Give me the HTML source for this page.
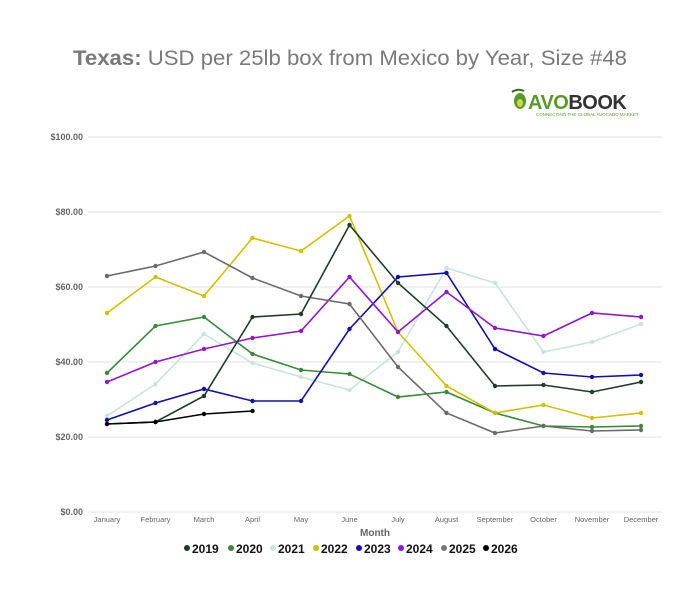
<!DOCTYPE html>
<html><head><meta charset="utf-8"><style>
body{margin:0;background:#fff;}
svg{display:block;font-family:"Liberation Sans",sans-serif;}
</style></head><body>
<svg width="700" height="593" viewBox="0 0 700 593" xmlns="http://www.w3.org/2000/svg">
<rect width="700" height="593" fill="#fff"/>
<text x="350" y="65" text-anchor="middle" font-size="21" fill="#7a7a7a" textLength="554" lengthAdjust="spacingAndGlyphs"><tspan font-weight="bold">Texas:</tspan> USD per 25lb box from Mexico by Year, Size #48</text>
<!-- logo -->
<g>
<ellipse cx="520" cy="101" rx="6" ry="8" fill="#5a9a2a"/>
<ellipse cx="520" cy="103" rx="3" ry="4" fill="#c8d84a"/>
<path d="M512 92 q6 -4 12 -1" stroke="#2e6b1e" stroke-width="2" fill="none"/>
<text x="528" y="109" font-size="20" font-weight="bold" fill="#5a9a2a" letter-spacing="-0.5">AVO<tspan fill="#333">BOOK</tspan></text>
<text x="536" y="116" font-size="4.5" fill="#5a9a2a">CONNECTING THE GLOBAL AVOCADO MARKET</text>
</g>
<g stroke="#e2e2e2" stroke-width="1">
<line x1="88" y1="137" x2="662" y2="137"/>
<line x1="88" y1="212" x2="662" y2="212"/>
<line x1="88" y1="287" x2="662" y2="287"/>
<line x1="88" y1="362" x2="662" y2="362"/>
<line x1="88" y1="437" x2="662" y2="437"/>
<line x1="88" y1="512" x2="662" y2="512"/>
</g>
<g font-size="9" font-weight="bold" fill="#666" text-anchor="end">
<text x="83" y="140">$100.00</text>
<text x="83" y="215">$80.00</text>
<text x="83" y="290">$60.00</text>
<text x="83" y="365">$40.00</text>
<text x="83" y="440">$20.00</text>
<text x="83" y="515">$0.00</text>
</g>
<g font-size="7.5" fill="#666" text-anchor="middle">
<text x="107" y="522">January</text><text x="155.5" y="522">February</text><text x="204" y="522">March</text><text x="252.5" y="522">April</text><text x="301" y="522">May</text><text x="349.5" y="522">June</text><text x="398" y="522">July</text><text x="446.5" y="522">August</text><text x="495" y="522">September</text><text x="543.5" y="522">October</text><text x="592" y="522">November</text><text x="641" y="522">December</text>
</g>
<text x="375" y="536" font-size="10" font-weight="bold" fill="#666" text-anchor="middle">Month</text>
<g fill="none" stroke-width="1.6">
<polyline stroke="#c6e6da" points="107,416 155.5,384 204,334 252.5,363 301,377 349.5,390 398,352 446.5,268 495,283 543.5,352 592,342 641,324"/>
<polyline stroke="#3a8a3a" points="107,373 155.5,326 204,317 252.5,354 301,370 349.5,374 398,397 446.5,392 495,413 543.5,426 592,427 641,426"/>
<polyline stroke="#d4c000" points="107,313 155.5,277 204,296 252.5,238 301,251 349.5,216 398,332 446.5,386 495,413 543.5,405 592,418 641,413"/>
<polyline stroke="#1010b0" points="107,420 155.5,403 204,389 252.5,401 301,401 349.5,329 398,277 446.5,273 495,349 543.5,373 592,377 641,375"/>
<polyline stroke="#8e17d6" points="107,382 155.5,362 204,349 252.5,338 301,331 349.5,277 398,332 446.5,292 495,328 543.5,336 592,313 641,317"/>
<polyline stroke="#6b6b6b" points="107,276 155.5,266 204,252 252.5,278 301,296 349.5,304 398,367 446.5,413 495,433 543.5,426 592,431 641,430"/>
<polyline stroke="#1d3d26" points="107,424 155.5,422 204,396 252.5,317 301,314 349.5,225 398,283 446.5,326 495,386 543.5,385 592,392 641,382"/>
<polyline stroke="#000" points="107,424 155.5,422 204,414 252.5,411"/>
</g>
<g>
<g fill="#c6e6da"><circle cx="107" cy="416" r="2.2"/><circle cx="155.5" cy="384" r="2.2"/><circle cx="204" cy="334" r="2.2"/><circle cx="252.5" cy="363" r="2.2"/><circle cx="301" cy="377" r="2.2"/><circle cx="349.5" cy="390" r="2.2"/><circle cx="398" cy="352" r="2.2"/><circle cx="446.5" cy="268" r="2.2"/><circle cx="495" cy="283" r="2.2"/><circle cx="543.5" cy="352" r="2.2"/><circle cx="592" cy="342" r="2.2"/><circle cx="641" cy="324" r="2.2"/></g>
<g fill="#3a8a3a"><circle cx="107" cy="373" r="2.2"/><circle cx="155.5" cy="326" r="2.2"/><circle cx="204" cy="317" r="2.2"/><circle cx="252.5" cy="354" r="2.2"/><circle cx="301" cy="370" r="2.2"/><circle cx="349.5" cy="374" r="2.2"/><circle cx="398" cy="397" r="2.2"/><circle cx="446.5" cy="392" r="2.2"/><circle cx="495" cy="413" r="2.2"/><circle cx="543.5" cy="426" r="2.2"/><circle cx="592" cy="427" r="2.2"/><circle cx="641" cy="426" r="2.2"/></g>
<g fill="#d4c000"><circle cx="107" cy="313" r="2.2"/><circle cx="155.5" cy="277" r="2.2"/><circle cx="204" cy="296" r="2.2"/><circle cx="252.5" cy="238" r="2.2"/><circle cx="301" cy="251" r="2.2"/><circle cx="349.5" cy="216" r="2.2"/><circle cx="398" cy="332" r="2.2"/><circle cx="446.5" cy="386" r="2.2"/><circle cx="495" cy="413" r="2.2"/><circle cx="543.5" cy="405" r="2.2"/><circle cx="592" cy="418" r="2.2"/><circle cx="641" cy="413" r="2.2"/></g>
<g fill="#1010b0"><circle cx="107" cy="420" r="2.2"/><circle cx="155.5" cy="403" r="2.2"/><circle cx="204" cy="389" r="2.2"/><circle cx="252.5" cy="401" r="2.2"/><circle cx="301" cy="401" r="2.2"/><circle cx="349.5" cy="329" r="2.2"/><circle cx="398" cy="277" r="2.2"/><circle cx="446.5" cy="273" r="2.2"/><circle cx="495" cy="349" r="2.2"/><circle cx="543.5" cy="373" r="2.2"/><circle cx="592" cy="377" r="2.2"/><circle cx="641" cy="375" r="2.2"/></g>
<g fill="#8e17d6"><circle cx="107" cy="382" r="2.2"/><circle cx="155.5" cy="362" r="2.2"/><circle cx="204" cy="349" r="2.2"/><circle cx="252.5" cy="338" r="2.2"/><circle cx="301" cy="331" r="2.2"/><circle cx="349.5" cy="277" r="2.2"/><circle cx="398" cy="332" r="2.2"/><circle cx="446.5" cy="292" r="2.2"/><circle cx="495" cy="328" r="2.2"/><circle cx="543.5" cy="336" r="2.2"/><circle cx="592" cy="313" r="2.2"/><circle cx="641" cy="317" r="2.2"/></g>
<g fill="#6b6b6b"><circle cx="107" cy="276" r="2.2"/><circle cx="155.5" cy="266" r="2.2"/><circle cx="204" cy="252" r="2.2"/><circle cx="252.5" cy="278" r="2.2"/><circle cx="301" cy="296" r="2.2"/><circle cx="349.5" cy="304" r="2.2"/><circle cx="398" cy="367" r="2.2"/><circle cx="446.5" cy="413" r="2.2"/><circle cx="495" cy="433" r="2.2"/><circle cx="543.5" cy="426" r="2.2"/><circle cx="592" cy="431" r="2.2"/><circle cx="641" cy="430" r="2.2"/></g>
<g fill="#1d3d26"><circle cx="107" cy="424" r="2.2"/><circle cx="155.5" cy="422" r="2.2"/><circle cx="204" cy="396" r="2.2"/><circle cx="252.5" cy="317" r="2.2"/><circle cx="301" cy="314" r="2.2"/><circle cx="349.5" cy="225" r="2.2"/><circle cx="398" cy="283" r="2.2"/><circle cx="446.5" cy="326" r="2.2"/><circle cx="495" cy="386" r="2.2"/><circle cx="543.5" cy="385" r="2.2"/><circle cx="592" cy="392" r="2.2"/><circle cx="641" cy="382" r="2.2"/></g>
<g fill="#000"><circle cx="107" cy="424" r="2.2"/><circle cx="155.5" cy="422" r="2.2"/><circle cx="204" cy="414" r="2.2"/><circle cx="252.5" cy="411" r="2.2"/></g>
</g>
<g font-size="12" font-weight="bold" fill="#111">
<circle cx="187" cy="548" r="3" fill="#1d3d26"/><text x="192" y="553">2019</text>
<circle cx="231" cy="548" r="3" fill="#3a8a3a"/><text x="236" y="553">2020</text>
<circle cx="273" cy="548" r="3" fill="#c6e6da"/><text x="278" y="553">2021</text>
<circle cx="316" cy="548" r="3" fill="#d4c000"/><text x="321" y="553">2022</text>
<circle cx="359" cy="548" r="3" fill="#1010b0"/><text x="364" y="553">2023</text>
<circle cx="401" cy="548" r="3" fill="#8e17d6"/><text x="406" y="553">2024</text>
<circle cx="444" cy="548" r="3" fill="#777"/><text x="449" y="553">2025</text>
<circle cx="486" cy="548" r="3" fill="#000"/><text x="491" y="553">2026</text>
</g>
</svg>
</body></html>
